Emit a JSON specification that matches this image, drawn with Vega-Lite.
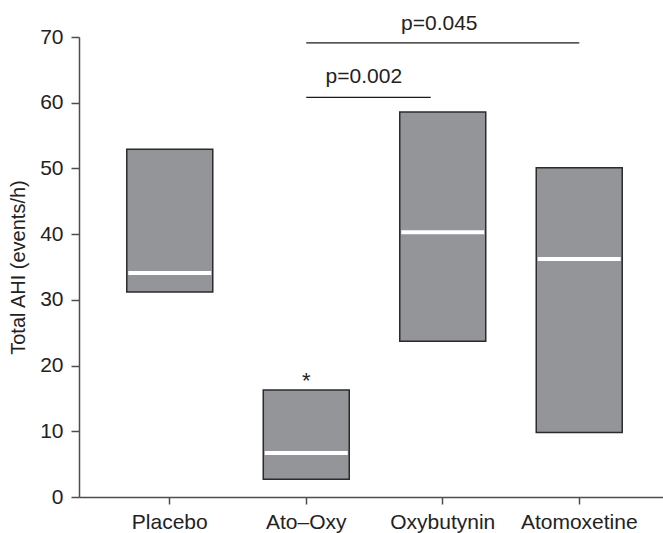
{
  "$schema": "https://vega.github.io/schema/vega-lite/v6.json",
  "autosize": "none",
  "padding": {"left": 79, "top": 37, "right": 0, "bottom": 36},
  "width": 591,
  "height": 460,
  "background": "white",
  "config": {
    "view": {"stroke": null},
    "font": "Liberation Sans",
    "axis": {"grid": false, "domainColor": "#4d4d4d", "tickColor": "#4d4d4d", "labelColor": "#222222", "titleColor": "#222222", "labelFont": "Liberation Sans", "titleFont": "Liberation Sans", "labelFontSize": 21, "titleFontSize": 20, "titleFontWeight": "normal", "domainWidth": 1.5, "tickWidth": 1.5}
  },
  "datasets": {
    "boxes": [
      {"group": "Placebo", "low": 31.2, "high": 52.9, "median": 34.1},
      {"group": "Ato–Oxy", "low": 2.7, "high": 16.3, "median": 6.7},
      {"group": "Oxybutynin", "low": 23.7, "high": 58.6, "median": 40.3},
      {"group": "Atomoxetine", "low": 9.8, "high": 50.1, "median": 36.2}
    ],
    "sig1": [{"from": "Ato–Oxy", "to": "Atomoxetine", "y": 69.1, "label": "p=0.045", "mid": "Oxybutynin", "ty": 71.1}],
    "sig2": [{"from": "Ato–Oxy", "to": "Oxybutynin", "y": 60.8, "label": "p=0.002", "mid": "Ato–Oxy", "ty": 63.0}],
    "star": [{"group": "Ato–Oxy", "y": 16.6, "label": "*"}]
  },
  "encoding": {
    "x": {"field": "group", "type": "nominal", "sort": ["Placebo", "Ato–Oxy", "Oxybutynin", "Atomoxetine"],
      "scale": {"domain": ["Placebo", "Ato–Oxy", "Oxybutynin", "Atomoxetine"], "paddingInner": 0.37, "paddingOuter": 0.35},
      "axis": {"title": null, "labelAngle": 0, "tickSize": 7, "labelPadding": 7}}
  },
  "layer": [
    {
      "data": {"name": "boxes"},
      "mark": {"type": "bar", "color": "#939598", "stroke": "#2b2b2b", "strokeWidth": 1.5},
      "encoding": {
        "y": {"field": "low", "type": "quantitative", "scale": {"domain": [0, 70]},
          "axis": {"title": "Total AHI (events/h)", "values": [0, 10, 20, 30, 40, 50, 60, 70], "tickSize": 8, "labelPadding": 8, "titlePadding": 11}},
        "y2": {"field": "high"}
      }
    },
    {
      "data": {"name": "boxes"},
      "mark": {"type": "tick", "color": "white", "thickness": 4, "size": 83, "opacity": 1},
      "encoding": {"y": {"field": "median", "type": "quantitative"}}
    },
    {
      "data": {"name": "sig1"},
      "mark": {"type": "rule", "color": "#1a1a1a", "strokeWidth": 1.3, "clip": false},
      "encoding": {
        "x": {"field": "from", "type": "nominal"},
        "x2": {"field": "to"},
        "y": {"field": "y", "type": "quantitative"}
      }
    },
    {
      "data": {"name": "sig2"},
      "mark": {"type": "rule", "color": "#1a1a1a", "strokeWidth": 1.3, "clip": false},
      "encoding": {
        "x": {"field": "from", "type": "nominal"},
        "x2": {"field": "to", "bandPosition": 0.36},
        "y": {"field": "y", "type": "quantitative"}
      }
    },
    {
      "data": {"name": "sig1"},
      "mark": {"type": "text", "fontSize": 21, "color": "#222222", "baseline": "alphabetic", "clip": false},
      "encoding": {
        "x": {"field": "mid", "type": "nominal", "bandPosition": 0.46},
        "y": {"field": "ty", "type": "quantitative"},
        "text": {"field": "label"}
      }
    },
    {
      "data": {"name": "sig2"},
      "mark": {"type": "text", "fontSize": 21, "color": "#222222", "baseline": "alphabetic", "clip": false},
      "encoding": {
        "x": {"field": "mid", "type": "nominal", "bandPosition": 1.17},
        "y": {"field": "ty", "type": "quantitative"},
        "text": {"field": "label"}
      }
    },
    {
      "data": {"name": "star"},
      "mark": {"type": "text", "fontSize": 22, "color": "#222222", "baseline": "alphabetic"},
      "encoding": {
        "x": {"field": "group", "type": "nominal"},
        "y": {"field": "y", "type": "quantitative"},
        "text": {"field": "label"}
      }
    }
  ]
}
